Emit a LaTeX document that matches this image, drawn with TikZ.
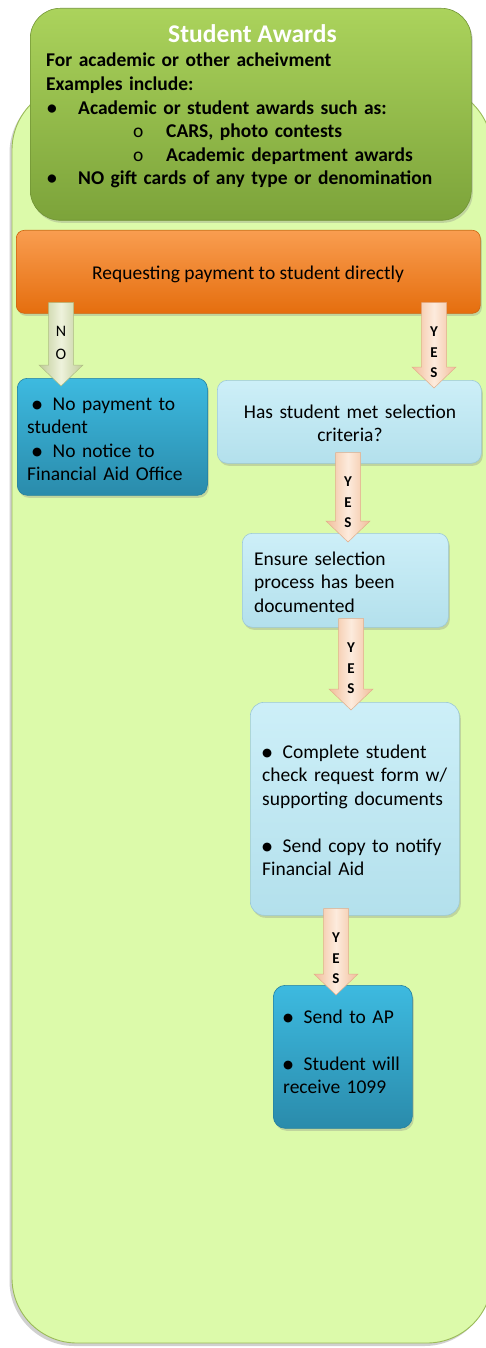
\documentclass[tikz,border=0pt]{standalone}
\usepackage{fontspec}
\setmainfont{Carlito}
\newfontfamily\dvfont{DejaVu Sans}
\usetikzlibrary{calc,shadows}
\definecolor{panelfill}{HTML}{DCFAAA}
\definecolor{panelborder}{HTML}{9BBB59}
\definecolor{grtop}{HTML}{ABD35C}
\definecolor{grbot}{HTML}{7CA33A}
\definecolor{ortop}{HTML}{F99D50}
\definecolor{orbot}{HTML}{E56E0E}
\definecolor{lbtop}{HTML}{CDEFF8}
\definecolor{lbbot}{HTML}{B3E0EC}
\definecolor{lbdraw}{HTML}{9CC8D6}
\definecolor{dbtop}{HTML}{3DBAE0}
\definecolor{dbbot}{HTML}{2A8BAB}
\definecolor{dbdraw}{HTML}{25809F}
\definecolor{pchedge}{HTML}{F1BE9A}
\definecolor{pchmid}{HTML}{FDEBDD}
\definecolor{pchdraw}{HTML}{E2AD8A}
\definecolor{noedge}{HTML}{C0CC98}
\definecolor{nomid}{HTML}{EEF2DC}
\definecolor{nodraw}{HTML}{AEBD83}
\newcommand\fsz[2]{\fontsize{#1}{#2}\selectfont}
\newcommand\bul{\raisebox{1.8pt}{\dvfont\fsz{11.5pt}{11.5pt}●}\hspace{4pt} }
% block arrow: #1 style, #2 start, #3 tip, #4 label name, #5 label text, #6 label style
\newcommand\blkarrow[6]{%
  \path[#1] let \p1=(#2), \p2=(#3) in
    ({\x1-12.5pt},{\y1}) -- ({\x1+12.5pt},{\y1}) -- ({\x1+12.5pt},{\y2+21pt})
    -- ({\x1+22pt},{\y2+21pt}) -- ({\x1},{\y2}) -- ({\x1-22pt},{\y2+21pt})
    -- ({\x1-12.5pt},{\y2+21pt}) -- cycle;
  \node[#6] (#4) at ($(#2)+(0,34)$) {#5};
}
\begin{document}
\begin{tikzpicture}[x=1pt,y=-1pt,
  panelbox/.style={draw=panelborder, line width=0.9pt, fill=panelfill, rounded corners=65pt,
    drop shadow={shadow xshift=-2.5pt, shadow yshift=-3pt, opacity=0.3, fill=black!60}},
  box/.style={rectangle, inner sep=0pt, anchor=north west, line width=0.6pt,
    drop shadow={shadow xshift=1.5pt, shadow yshift=-2.5pt, opacity=0.3}},
  greenbox/.style={box, top color=grtop, bottom color=grbot, draw=grbot!90!black, rounded corners=30pt},
  orangebox/.style={box, top color=ortop, bottom color=orbot, draw=orbot!90!black, rounded corners=8pt},
  lightbox/.style={box, top color=lbtop, bottom color=lbbot, draw=lbdraw, rounded corners=10pt},
  darkbox/.style={box, top color=dbtop, bottom color=dbbot, draw=dbdraw, rounded corners=10pt},
  yesarrow/.style={left color=pchedge, right color=pchedge, middle color=pchmid, draw=pchdraw, line width=0.5pt},
  noarrow/.style={left color=noedge, right color=noedge, middle color=nomid, draw=nodraw, line width=0.5pt},
  yeslabel/.style={inner sep=0pt, text width=14pt, align=center, anchor=base, font=\bfseries\fsz{15pt}{20.5pt}},
  nolabel/.style={inner sep=0pt, text width=14pt, align=center, anchor=base, font=\fsz{16pt}{23pt}},
  txt/.style={inner sep=0pt, anchor=base west, align=left, font=\fsz{19.5pt}{23.5pt}},
  ctxt/.style={inner sep=0pt, anchor=base, align=center, font=\fsz{19.5pt}{23.5pt}},
]
\useasboundingbox (0,0) rectangle (486,1348);
\fill[white] (0,0) rectangle (486,1348);

% background panel
\path[panelbox] (12,85) rectangle (492,1343);

% boxes
\node[greenbox, minimum width=441, minimum height=212] (top) at (30,8) {};
\node[orangebox, minimum width=464, minimum height=83] (req) at (16,230) {};
\node[darkbox, minimum width=190, minimum height=117] (nopay) at (17,378) {};
\node[lightbox, minimum width=264, minimum height=83] (has) at (217,380) {};
\node[lightbox, minimum width=206, minimum height=94] (ensure) at (242,533) {};
\node[lightbox, minimum width=209, minimum height=213, rounded corners=14pt] (complete) at (250,702) {};
\node[darkbox, minimum width=139, minimum height=143, rounded corners=12pt] (ap) at (273,985) {};

% texts
\node[inner sep=0pt, anchor=base, text=white, font=\bfseries\fsz{25.5pt}{30pt}] (title) at (252.5,43) {Student Awards};
\node[inner sep=0pt, anchor=base west, align=left, text width=420, font=\bfseries\fsz{19.5pt}{23.6pt}] (toptext) at (46,67)
  {For academic or other acheivment\\
   Examples include:\\
   \hspace*{1pt}\makebox[31pt][l]{•}Academic or student awards such as:\\
   \hspace*{87pt}\makebox[33pt][l]{\mdseries o}CARS, photo contests\\
   \hspace*{87pt}\makebox[33pt][l]{\mdseries o}Academic department awards\\
   \hspace*{1pt}\makebox[31pt][l]{•}NO gift cards of any type or denomination};
\node[ctxt] (reqtext) at (248,279) {Requesting payment to student directly};
\node[txt, text width=185] (nopaytext) at (27,410)
  {\hspace*{5pt}\bul No payment to\\ student\\ \hspace*{5pt}\bul No notice to\\ Financial Aid Office};
\node[ctxt, text width=250] (hastext) at (350,418) {Has student met selection\\ criteria?};
\node[txt, text width=190] (ensuretext) at (254,565) {Ensure selection\\ process has been\\ documented};
\node[txt, text width=195] (completetext) at (262,758)
  {\bul Complete student\\ check request form w/\\ supporting documents\\[23.5pt] \bul Send copy to notify\\ Financial Aid};
\node[txt, text width=125] (aptext) at (283,1023) {\bul Send to AP\\[23.5pt] \bul Student will\\ receive 1099};

% arrow anchor columns
\coordinate (cno) at (61,0);
\coordinate (cy1) at (434,0);
\coordinate (cy2) at (348,0);
\coordinate (cy3) at (351,0);
\coordinate (cy4) at (336,0);
\coordinate (nos) at ($(req.south -| cno)+(0,-11)$);
\coordinate (noe) at ($(nopay.north -| cno)+(0,8)$);
\coordinate (y1s) at ($(req.south -| cy1)+(0,-11)$);
\coordinate (y1e) at ($(has.north -| cy1)+(0,8)$);
\coordinate (y2s) at ($(has.south -| cy2)+(0,-11)$);
\coordinate (y2e) at ($(ensure.north -| cy2)+(0,9)$);
\coordinate (y3s) at ($(ensure.south -| cy3)+(0,-9)$);
\coordinate (y3e) at ($(complete.north -| cy3)+(0,8)$);
\coordinate (y4s) at ($(complete.south -| cy4)+(0,-7)$);
\coordinate (y4e) at ($(ap.north -| cy4)+(0,10)$);

\blkarrow{noarrow}{nos}{noe}{nolab}{N\\O}{nolabel}
\blkarrow{yesarrow}{y1s}{y1e}{y1lab}{Y\\E\\S}{yeslabel}
\blkarrow{yesarrow}{y2s}{y2e}{y2lab}{Y\\E\\S}{yeslabel}
\blkarrow{yesarrow}{y3s}{y3e}{y3lab}{Y\\E\\S}{yeslabel}
\blkarrow{yesarrow}{y4s}{y4e}{y4lab}{Y\\E\\S}{yeslabel}
\end{tikzpicture}
\end{document}
